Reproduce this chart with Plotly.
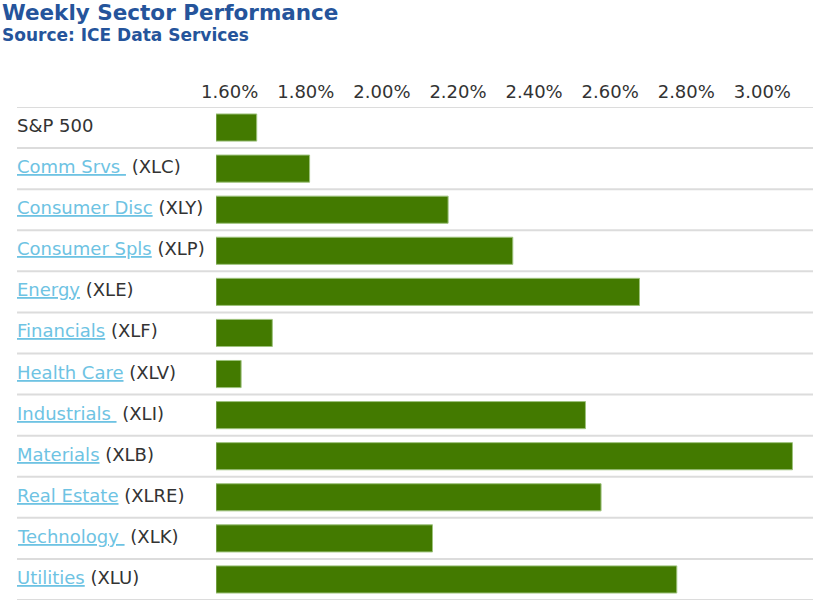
import plotly.graph_objects as go

# ---- data ----
sectors = ["S&P 500", "Comm Srvs ", "Consumer Disc", "Consumer Spls", "Energy",
           "Financials", "Health Care", "Industrials ", "Materials", "Real Estate",
           "Technology ", "Utilities"]
tickers = ["", "XLC", "XLY", "XLP", "XLE", "XLF", "XLV", "XLI", "XLB", "XLRE", "XLK", "XLU"]
returns = [1.671, 1.810, 2.174, 2.344, 2.677, 1.712, 1.630, 2.535, 3.079, 2.576, 2.133, 2.775]
tick_vals = [1.6, 1.8, 2.0, 2.2, 2.4, 2.6, 2.8, 3.0]
tick_text = ["1.60%", "1.80%", "2.00%", "2.20%", "2.40%", "2.60%", "2.80%", "3.00%"]
axis_min, axis_max = 1.564, 3.133
title_text = "Weekly Sector Performance"
subtitle_text = "Source: ICE Data Services"

LINK = "#6ec3e3"
GRAY = "#333333"
GREEN = "#437a00"
TITLE = "#25549b"

cats = list(range(len(sectors)))

fig = go.Figure()
fig.add_trace(go.Bar(
    y=cats, x=[r - axis_min for r in returns], base=axis_min,
    orientation="h", width=0.66,
    marker=dict(color=GREEN, line=dict(color="#9dc27c", width=1)),
    hoverinfo="skip", showlegend=False,
))

# row separators
for i in range(len(sectors) + 1):
    fig.add_shape(type="line", xref="paper", yref="y",
                  x0=-0.3333, x1=1.0, y0=i - 0.5, y1=i - 0.5,
                  line=dict(color="#dcdcdc", width=2), layer="below")

# row labels
for i, (s, t) in enumerate(zip(sectors, tickers)):
    if t == "":
        txt = f"<span style='color:{GRAY}'>{s}</span>"
    else:
        txt = (f"<span style='color:{LINK};text-decoration:underline'>{s}</span>"
               f"<span style='color:{GRAY}'> ({t})</span>")
    fig.add_annotation(x=-0.3367, xref="paper", y=i, yref="y", text=txt,
                       showarrow=False, xanchor="left", yanchor="middle", yshift=2,
                       font=dict(family="DejaVu Sans", size=18, color=GRAY))

# title / subtitle
fig.add_annotation(x=-0.3618, xref="paper", y=1.1917, yref="paper",
                   text=f"<b>{title_text}</b>", showarrow=False,
                   xanchor="left", yanchor="middle",
                   font=dict(family="DejaVu Sans", size=21.5, color=TITLE))
fig.add_annotation(x=-0.3618, xref="paper", y=1.146, yref="paper",
                   text=f"<b>{subtitle_text}</b>", showarrow=False,
                   xanchor="left", yanchor="middle",
                   font=dict(family="DejaVu Sans", size=17, color=TITLE))

fig.update_layout(
    width=828, height=611,
    margin=dict(l=216, r=15, t=107, b=11),
    paper_bgcolor="white", plot_bgcolor="white",
    xaxis=dict(range=[axis_min, axis_max], side="top", tickvals=tick_vals,
               ticktext=tick_text, showgrid=False, zeroline=False, showline=False,
               ticks="", ticklabelstandoff=4,
               tickfont=dict(family="DejaVu Sans", size=18, color=GRAY),
               fixedrange=True),
    yaxis=dict(range=[len(sectors) - 0.5, -0.5], showticklabels=False,
               showgrid=False, zeroline=False, showline=False, ticks="",
               fixedrange=True),
)

fig.write_html("out.html", config={"displayModeBar": False},
               post_script="document.body.style.margin='0';")
